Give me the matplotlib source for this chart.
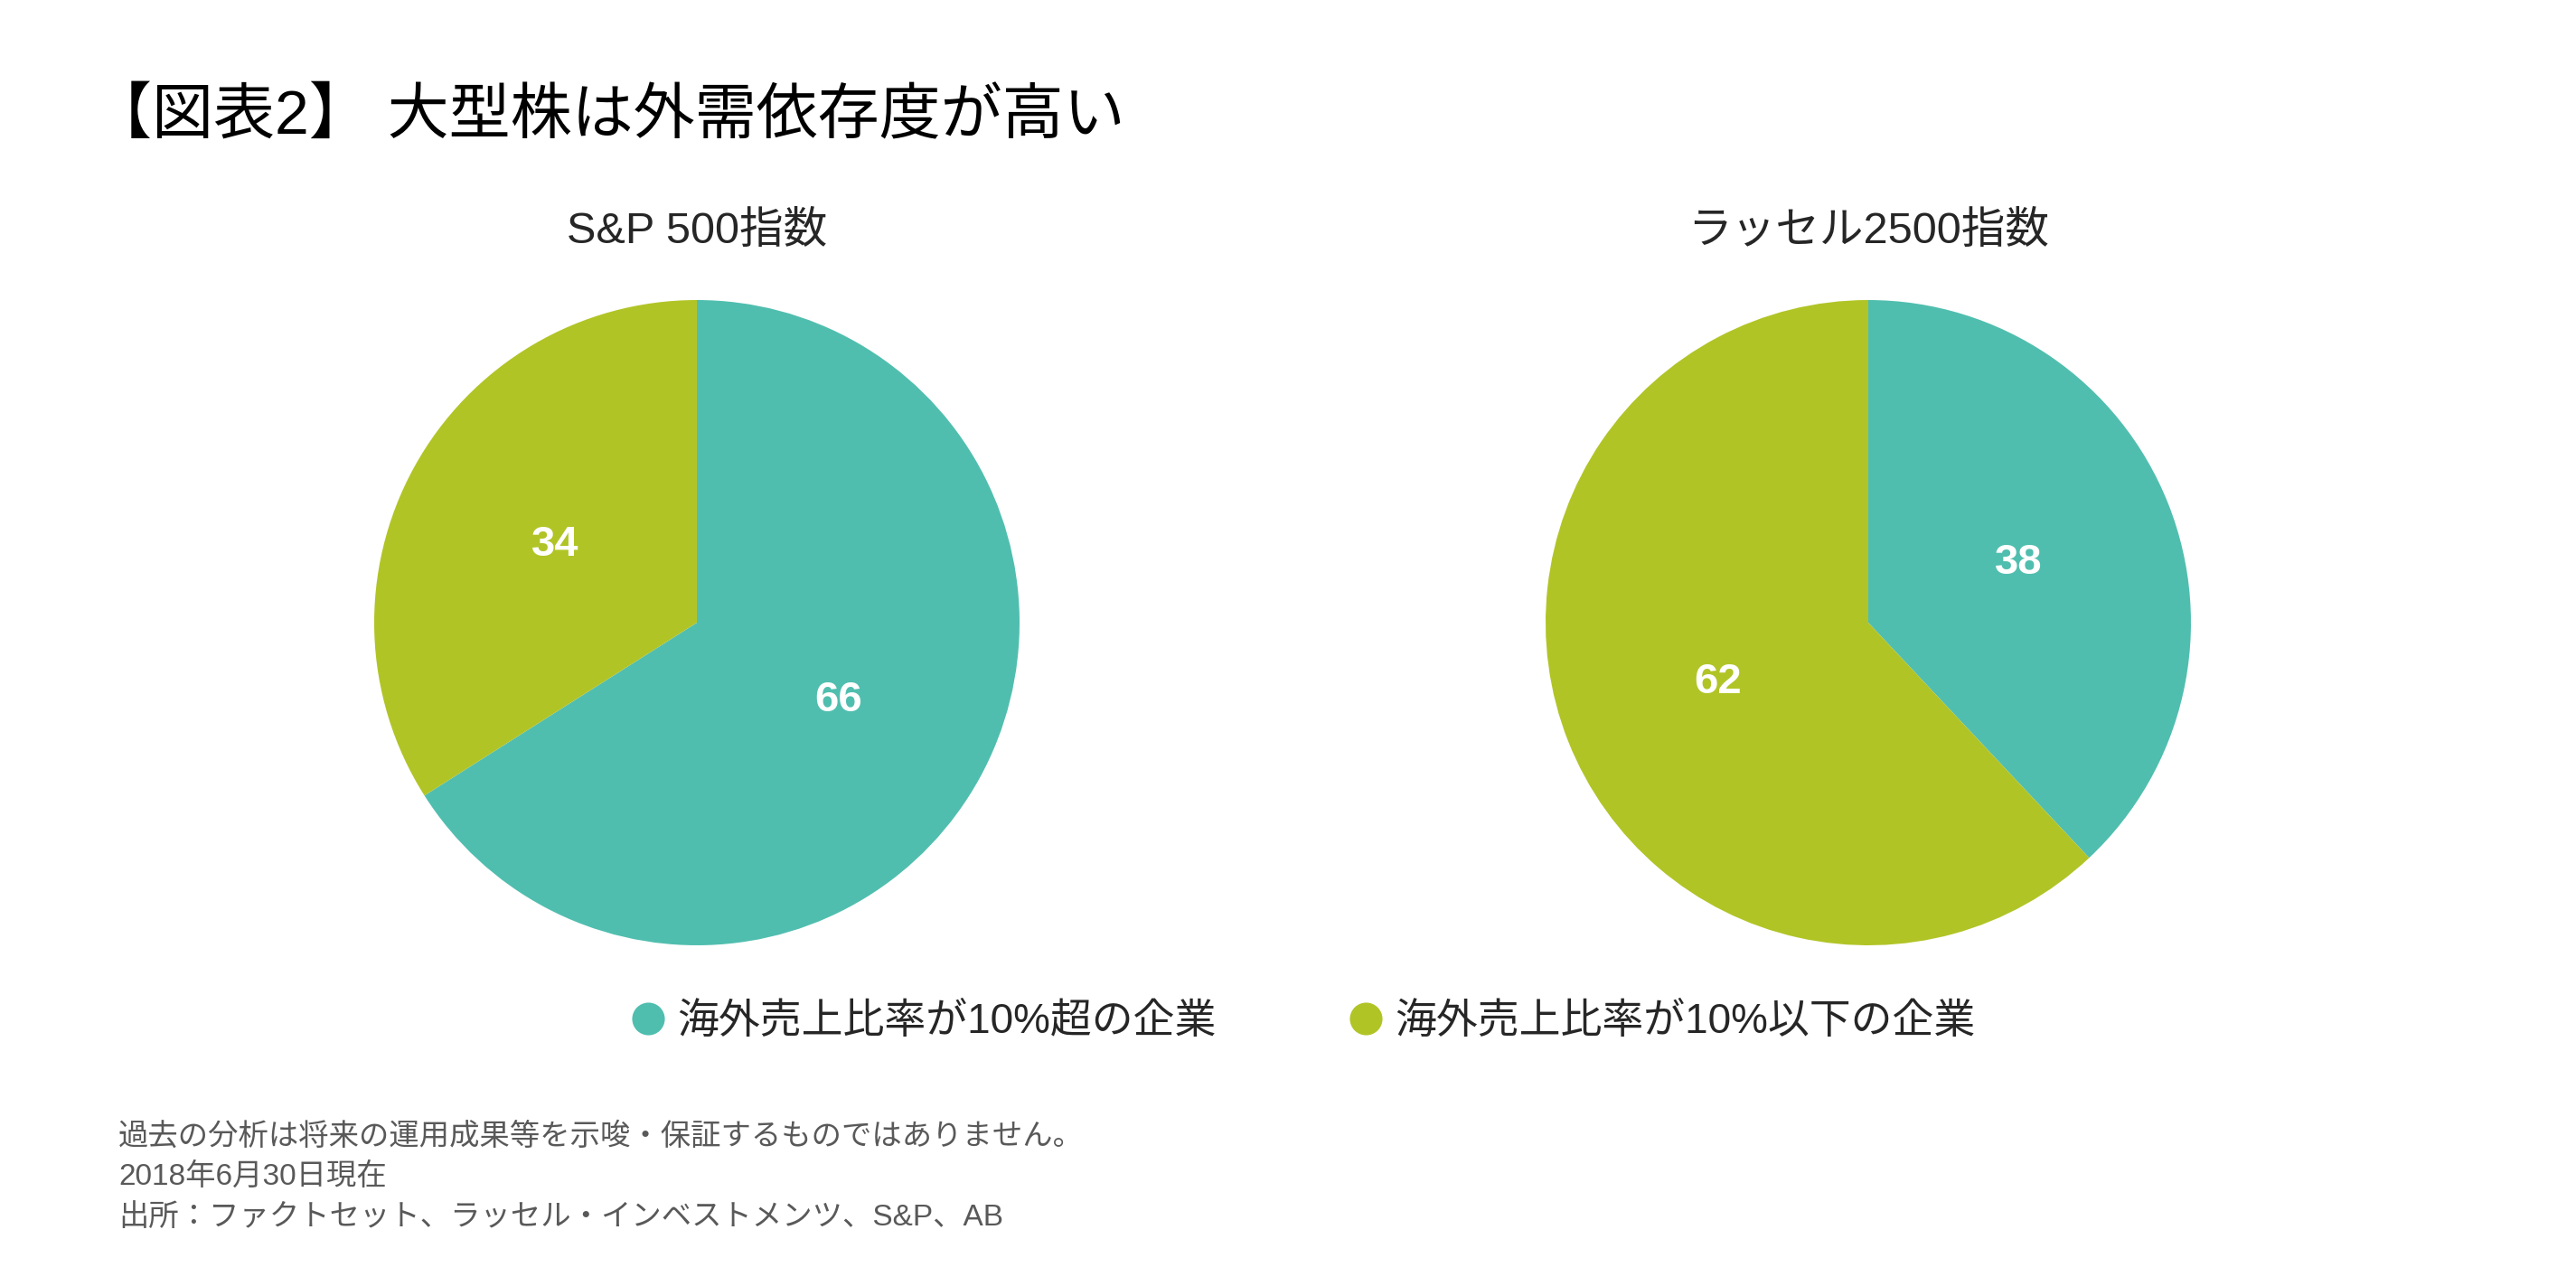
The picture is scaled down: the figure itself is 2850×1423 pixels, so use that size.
import matplotlib
matplotlib.use("Agg")
import matplotlib.pyplot as plt
from matplotlib.lines import Line2D

plt.rcParams["font.family"] = ["Liberation Sans", "Noto Sans CJK JP", "DejaVu Sans"]

# ── data ───────────────────────────────────────────────────────────────────────
title      = "【図表2】 大型株は外需依存度が高い"
pie_titles = ["S&P 500指数", "ラッセル2500指数"]
categories = ["海外売上比率が10%超の企業", "海外売上比率が10%以下の企業"]
sp500      = [66, 34]
russell    = [38, 62]
notes = [
    "過去の分析は将来の運用成果等を示唆・保証するものではありません。",
    "2018年6月30日現在",
    "出所：ファクトセット、ラッセル・インベストメンツ、S&P、AB",
]

colors = ["#50BEAF", "#B1C426"]

# ── figure ─────────────────────────────────────────────────────────────────────
W, H = 2850, 1423
fig = plt.figure(figsize=(W / 100, H / 100), dpi=100)
fig.patch.set_facecolor("white")

R = 357
centers = [(771, 689), (2067, 689)]

for (cx, cy), vals, name in zip(centers, [sp500, russell], pie_titles):
    ax = fig.add_axes([(cx - R) / W, (H - cy - R) / H, 2 * R / W, 2 * R / H])
    wedges, texts, autotexts = ax.pie(
        vals, colors=colors, startangle=90, counterclock=False,
        autopct=lambda p: f"{p:.0f}", pctdistance=0.5,
        wedgeprops=dict(linewidth=0),
        textprops=dict(color="white", fontsize=34, fontweight="bold"),
    )
    ax.set_xlim(-1, 1)
    ax.set_ylim(-1, 1)
    ax.axis("off")
    fig.text(cx / W, 1 - 256 / H, name, ha="center", va="center",
             fontsize=35, color="#262626")

fig.text(0.035, 1 - 130 / H, title, ha="left", va="center",
         fontsize=49, color="black")

handles = [Line2D([], [], marker="o", linestyle="none", markersize=26,
                  markerfacecolor=c, markeredgewidth=0) for c in colors]
fig.legend(handles, categories, loc="center", bbox_to_anchor=(0.506, 1 - 1131 / H),
           ncol=2, frameon=False, fontsize=33, handlelength=0.8,
           handletextpad=0.3, columnspacing=3.2, labelcolor="#262626")

for i, line in enumerate(notes):
    fig.text(131 / W, 1 - (1258 + 44.5 * i) / H, line, ha="left", va="center",
             fontsize=24, color="#595959")

plt.savefig("out.png", dpi=100)
plt.close()
